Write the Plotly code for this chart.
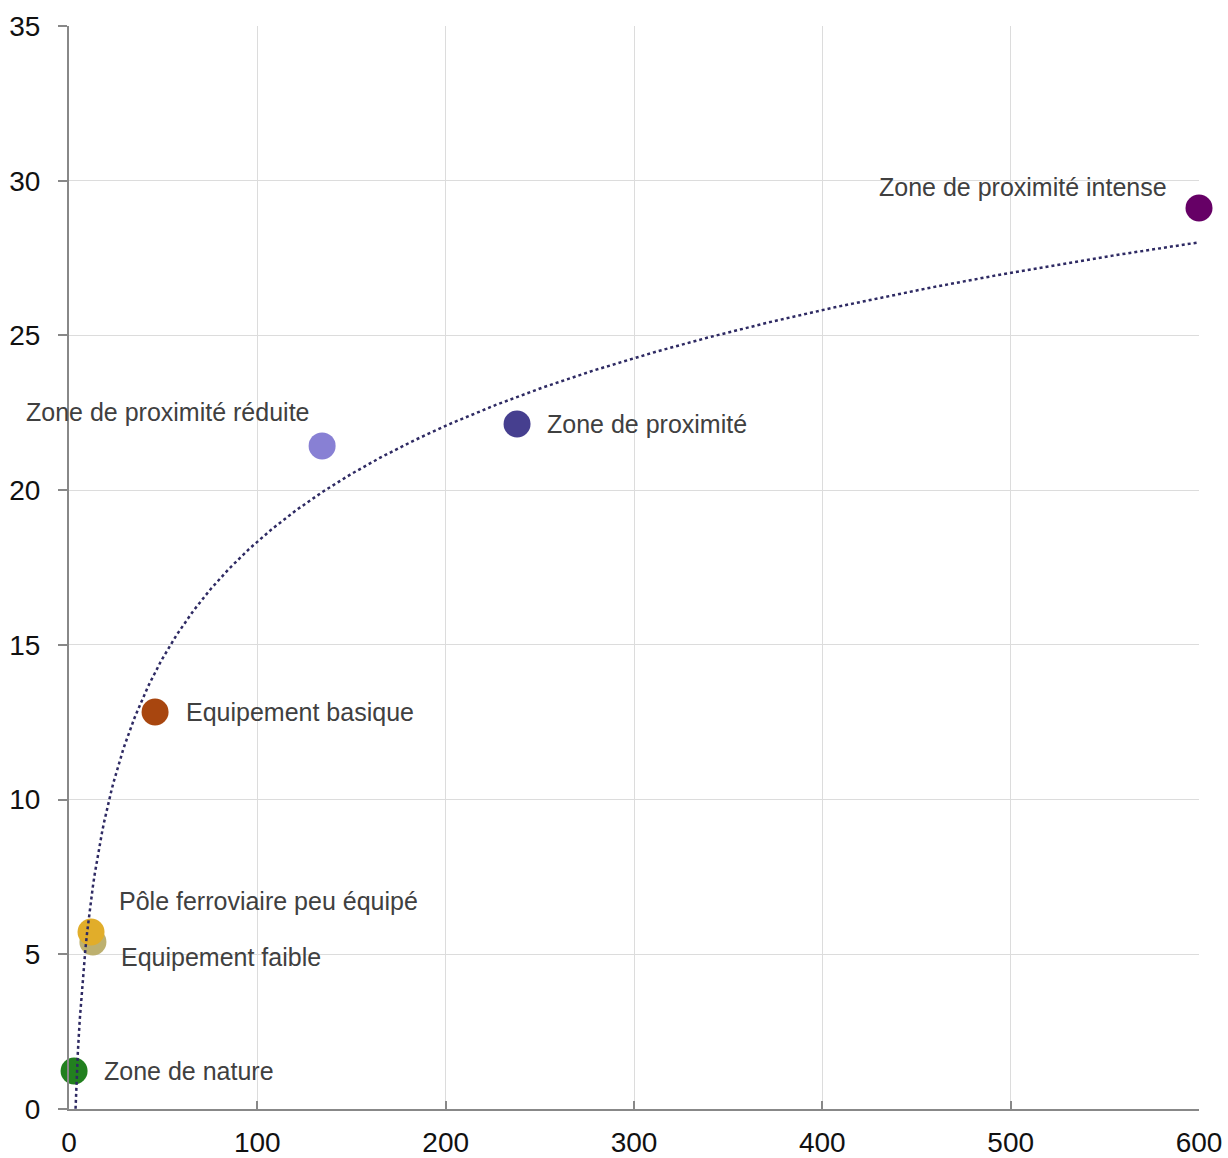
import numpy as np
import plotly.graph_objects as go

names = ["Zone de nature", "Equipement faible", "Pôle ferroviaire peu équipé",
         "Equipement basique", "Zone de proximité réduite", "Zone de proximité",
         "Zone de proximité intense"]
x_vals = [2.7, 12.7, 11.7, 45.7, 134.4, 237.9, 600.0]
y_vals = [1.23, 5.40, 5.72, 12.83, 21.43, 22.14, 29.12]
colors = ["#22801f", "#bdb06f", "#e1ad2a", "#a8460f", "#8880d4", "#463f8f", "#660066"]

# label placement (pixel offsets from the point)
label_anchor = ["left", "left", "left", "left", "right", "left", "right"]
label_dx = [28, 26, 26, 29, -11, 28, -30]
label_dy = [0, -15, 31, 0, 34, 0, 21]

x_ticks = [0, 100, 200, 300, 400, 500, 600]
y_ticks = [0, 5, 10, 15, 20, 25, 30, 35]

# logarithmic trend fitted to the points
a, b = np.polyfit(np.log(x_vals), y_vals, 1)
tx = np.linspace(min(x_vals), max(x_vals), 600)
ty = a * np.log(tx) + b

fig = go.Figure()
for n, xv, yv, c in zip(names, x_vals, y_vals, colors):
    fig.add_trace(go.Scatter(x=[xv], y=[yv], mode="markers", name=n,
                             marker=dict(size=27, color=c, line=dict(width=0)),
                             cliponaxis=False))
fig.add_trace(go.Scatter(x=tx, y=ty, mode="lines", name="trend",
                         line=dict(color="#2e2a63", width=2.5, dash="dot")))

for n, xv, yv, anc, dx, dy in zip(names, x_vals, y_vals, label_anchor, label_dx, label_dy):
    fig.add_annotation(x=xv, y=yv, text=n, showarrow=False, xanchor=anc, yanchor="middle",
                       xshift=dx, yshift=dy,
                       font=dict(family="Liberation Sans, Arial", size=25, color="#404040"))

fig.update_layout(
    width=1228, height=1158,
    margin=dict(l=69, r=29, t=26, b=49, autoexpand=False),
    paper_bgcolor="white", plot_bgcolor="white",
    showlegend=False,
    font=dict(family="Liberation Sans, Arial", color="#111111"),
)
fig.update_xaxes(range=[0, 600], tickvals=x_ticks, ticks="inside", ticklen=8, tickcolor="#888888",
                 tickwidth=1.5, showline=True, linecolor="#888888", linewidth=2,
                 showgrid=True, gridcolor="#dcdcdc", gridwidth=1, zeroline=False, automargin=False,
                 tickfont=dict(size=28, color="#111111"), ticklabelstandoff=7)
fig.update_yaxes(range=[0, 35], tickvals=y_ticks, ticks="outside", ticklen=9, tickcolor="#888888",
                 tickwidth=1.5, showline=True, linecolor="#888888", linewidth=2,
                 showgrid=True, gridcolor="#dcdcdc", gridwidth=1, zeroline=False, automargin=False,
                 tickfont=dict(size=28, color="#111111"), ticklabelstandoff=12)

fig.write_html("out.html",
               config={"displayModeBar": False},
               post_script="document.body.style.margin='0';"
                           "document.documentElement.style.overflow='hidden';")
